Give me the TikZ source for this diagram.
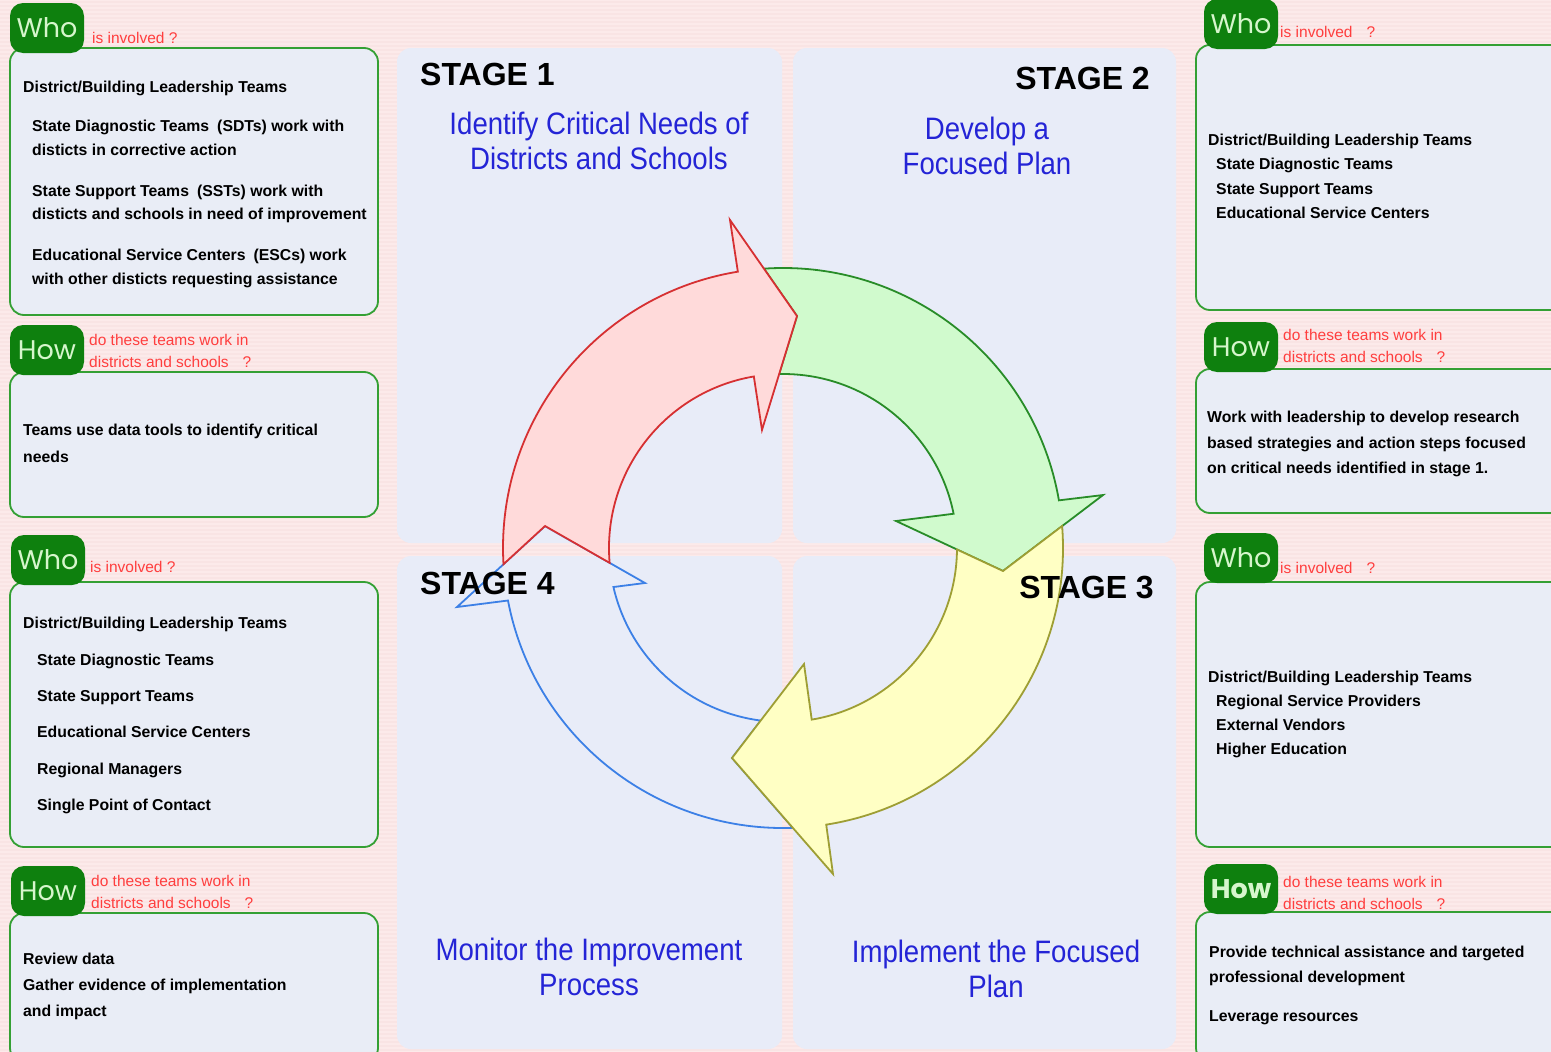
\documentclass[tikz,border=0pt]{standalone}
\usepackage{fontspec}
\setmainfont{Liberation Sans}
\newfontfamily\badgefont{Poppins}
\newfontfamily\narrowfont{Liberation Sans}[FakeStretch=0.89]
\usepackage{tikz}

\definecolor{bgpink}{RGB}{252,234,234}
\definecolor{stripepink}{RGB}{249,228,228}
\definecolor{panelfill}{RGB}{232,236,248}
\definecolor{boxfill}{RGB}{233,237,246}
\definecolor{boxline}{RGB}{52,160,52}
\definecolor{badgefill}{RGB}{14,128,14}
\definecolor{badgetext}{RGB}{214,246,204}
\definecolor{askred}{RGB}{255,62,62}
\definecolor{aimblue}{RGB}{36,36,214}
\definecolor{redline}{RGB}{214,48,50}
\definecolor{redfill}{RGB}{255,218,218}
\definecolor{greenline}{RGB}{40,140,40}
\definecolor{greenfill}{RGB}{208,250,205}
\definecolor{yellowline}{RGB}{158,158,52}
\definecolor{yellowfill}{RGB}{255,255,196}
\definecolor{blueline}{RGB}{60,128,230}

\tikzset{
  panel/.style={fill=panelfill, rounded corners=14pt},
  sidebox/.style={draw=boxline, line width=1.8pt, fill=boxfill, rounded corners=14pt},
  badge/.style={fill=badgefill, rounded corners=13pt, minimum width=74pt, minimum height=50pt,
    inner sep=0pt, text=badgetext, font=\badgefont\fontsize{27}{27}\selectfont},
  ask/.style={anchor=west, inner sep=0pt, text=askred, align=left,
    font=\fontsize{15.5}{21.5}\selectfont},
  body/.style={anchor=north west, inner sep=0pt, align=left,
    font=\bfseries\fontsize{15.8}{#1}\selectfont},
  body/.default=24,
  stage/.style={inner sep=0pt, font=\bfseries\fontsize{32}{32}\selectfont},
  aim/.style={inner sep=0pt, align=center, text=aimblue, font=\narrowfont\fontsize{31}{35}\selectfont},
  cyclearrow/.style={line width=1.8pt, line join=miter},
  stripe/.style={draw=stripepink, line width=1.3pt},
}

\begin{document}
\begin{tikzpicture}[x=1pt,y=-1pt]
    \useasboundingbox (0,0) rectangle (1551,1052);
    \clip (0,0) rectangle (1551,1052);

    % striped pink background
    \fill[bgpink] (0,0) rectangle (1551,1052);
    \foreach \y in {2,6,...,1050}
        \draw[stripe] (0,\y) -- (1551,\y);

    % the four stage panels
    \fill[panel] (397,48) rectangle (782,543);
    \fill[panel] (793,48) rectangle (1176,543);
    \fill[panel] (397,556) rectangle (782,1049);
    \fill[panel] (793,556) rectangle (1176,1049);

    % side boxes, left column
    \draw[sidebox] (10,48) rectangle (378,315);
    \draw[sidebox] (10,372) rectangle (378,517);
    \draw[sidebox] (10,582) rectangle (378,847);
    \draw[sidebox] (10,913) rectangle (378,1062);
    % side boxes, right column
    \draw[sidebox] (1196,45) rectangle (1575,310);
    \draw[sidebox] (1196,369) rectangle (1575,513);
    \draw[sidebox] (1196,582) rectangle (1575,847);
    \draw[sidebox] (1196,912) rectangle (1575,1062);

    % red questions next to the badges
    \node[ask] (whoask1) at (92,38) {is involved ?};
    \node[ask] (howask1) at (89,351) {do these teams work in\\districts and schools\hspace{14pt}?};
    \node[ask] (whoask2) at (90,567) {is involved ?};
    \node[ask] (howask2) at (91,892) {do these teams work in\\districts and schools\hspace{14pt}?};
    \node[ask] (whoask3) at (1280,32) {is involved\hspace{14pt}?};
    \node[ask] (howask3) at (1283,346) {do these teams work in\\districts and schools\hspace{14pt}?};
    \node[ask] (whoask4) at (1280,568) {is involved\hspace{14pt}?};
    \node[ask] (howask4) at (1283,893) {do these teams work in\\districts and schools\hspace{14pt}?};

    % badges
    \node[badge] (who1) at (47,28) {Who};
    \node[badge] (how1) at (47,350) {How};
    \node[badge] (who2) at (48,560) {Who};
    \node[badge] (how2) at (48,891) {How};
    \node[badge] (who3) at (1241,24) {Who};
    \node[badge] (how3) at (1241,347) {How};
    \node[badge] (who4) at (1241,558) {Who};
    \node[badge, font=\badgefont\bfseries\fontsize{27}{27}\selectfont] (how4) at (1241,889) {How};

    % box contents, left column
    \node[body=23.5] (whotext1) at (23,81) {District/Building Leadership Teams\\[15.5pt]
        \hspace*{9pt}State Diagnostic Teams\hspace{8pt}(SDTs) work with\\
        \hspace*{9pt}disticts in corrective action\\[17.5pt]
        \hspace*{9pt}State Support Teams\hspace{8pt}(SSTs) work with\\
        \hspace*{9pt}disticts and schools in need of improvement\\[17.5pt]
        \hspace*{9pt}Educational Service Centers\hspace{8pt}(ESCs) work\\
        \hspace*{9pt}with other disticts requesting assistance};
    \node[body=27] (howtext1) at (23,424) {Teams use data tools to identify critical\\needs};
    \node[body=36.4] (whotext2) at (23,617) {District/Building Leadership Teams\\
        \hspace*{14pt}State Diagnostic Teams\\
        \hspace*{14pt}State Support Teams\\
        \hspace*{14pt}Educational Service Centers\\
        \hspace*{14pt}Regional Managers\\
        \hspace*{14pt}Single Point of Contact};
    \node[body=26] (howtext2) at (23,953) {Review data\\Gather evidence of implementation\\and impact};

    % box contents, right column
    \node[body=24.3] (whotext3) at (1208,134) {District/Building Leadership Teams\\
        \hspace*{8pt}State Diagnostic Teams\\
        \hspace*{8pt}State Support Teams\\
        \hspace*{8pt}Educational Service Centers};
    \node[body=25.5] (howtext3) at (1207,411) {Work with leadership to develop research\\
        based strategies and action steps focused\\
        on critical needs identified in stage 1.};
    \node[body=24] (whotext4) at (1208,671) {District/Building Leadership Teams\\
        \hspace*{8pt}Regional Service Providers\\
        \hspace*{8pt}External Vendors\\
        \hspace*{8pt}Higher Education};
    \node[body=25] (howtext4) at (1209,946) {Provide technical assistance and targeted\\
        professional development\\[14pt]
        Leverage resources};

    % the improvement cycle
    \begin{scope}[shift={(783,548)}]
        \draw[cyclearrow, draw=blueline] (103.65:216.1) -- (88:280)
            arc[start angle=88, end angle=169.19, radius=280]
            -- (169.74:331.3) -- (185.28:239) -- (165.77:142.4) -- (167.04:174)
            arc[start angle=167.04, end angle=97.36, radius=174] -- cycle;
        \draw[cyclearrow, draw=greenline, fill=greenfill] (273.45:232.4) -- (266.1:280)
            arc[start angle=266.1, end angle=350.2, radius=280]
            -- (350.6:324.4) -- (365.97:221.2) -- (346.56:116.2) -- (348.65:174)
            arc[start angle=348.65, end angle=268.7, radius=174] -- cycle;
        \draw[cyclearrow, draw=yellowline, fill=yellowfill] (365.97:221.2) -- (355.5:280)
            arc[start angle=355.5, end angle=441.12, radius=280]
            -- (441.28:329.8) -- (463.65:216.1) -- (439.74:117.9) -- (440.5:174)
            arc[start angle=440.5, end angle=360.5, radius=174] -- cycle;
        \draw[cyclearrow, draw=redline, fill=redfill] (185.28:239) -- (176.68:280)
            arc[start angle=176.68, end angle=260.72, radius=280]
            -- (260.82:332.3) -- (273.45:232.4) -- (259.91:119.9) -- (260.35:174)
            arc[start angle=260.35, end angle=175.1, radius=174] -- cycle;
    \end{scope}

    % stage titles
    \node[stage, anchor=west] (stage1) at (420,74) {STAGE 1};
    \node[stage, anchor=east] (stage2) at (1150,78) {STAGE 2};
    \node[stage, anchor=east] (stage3) at (1154,588) {STAGE 3};
    \node[stage, anchor=west] (stage4) at (420,583) {STAGE 4};

    \node[aim] (aim1) at (599,141) {Identify Critical Needs of\\Districts and Schools};
    \node[aim] (aim2) at (987,146) {Develop a\\Focused Plan};
    \node[aim] (aim3) at (996,969) {Implement the Focused\\Plan};
    \node[aim] (aim4) at (589,967) {Monitor the Improvement\\Process};
\end{tikzpicture}
\end{document}
